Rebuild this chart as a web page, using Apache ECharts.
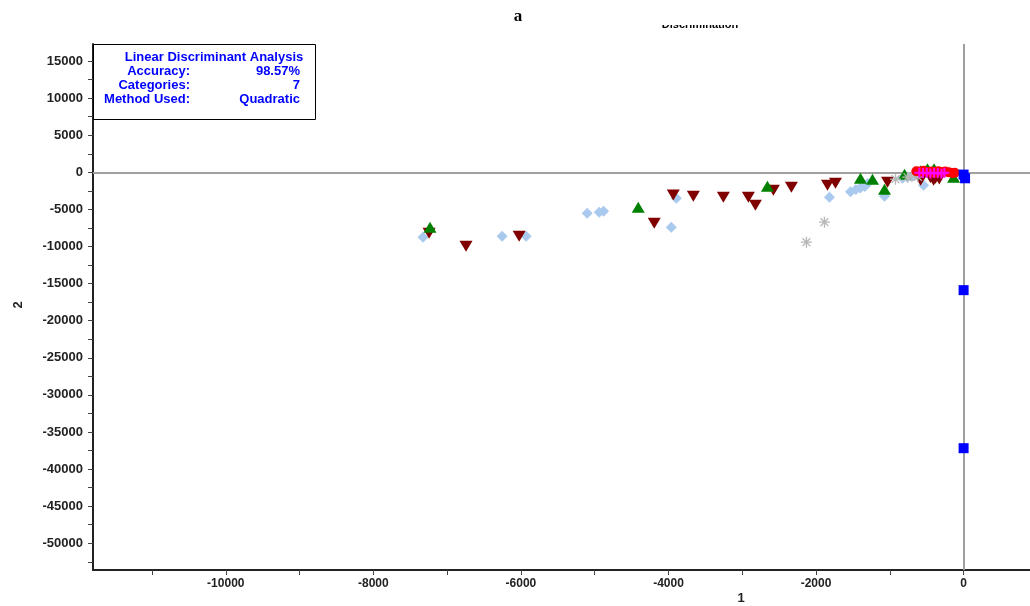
<!DOCTYPE html>
<html>
<head>
<meta charset="utf-8">
<script src="https://cdn.jsdelivr.net/npm/echarts@6/dist/echarts.min.js"></script>
<style>
  html, body { margin: 0; padding: 0; background: #fff; }
  #chart { width: 1030px; height: 606px; }
</style>
</head>
<body>
<div id="chart"></div>
<script>
// Discriminant scores: [function 1, function 2] for each sample, grouped by category
const groupDiamond = [
  [-7327, -8735], [-6255, -8600], [-5929, -8600], [-5102, -5500], [-4939, -5365],
  [-4880, -5230], [-3962, -7387], [-3894, -3478], [-1818, -3343], [-1533, -2600],
  [-1460, -2300], [-1400, -2100], [-1340, -1900], [-1300, -1500], [-1072, -3208],
  [-828, -782], [-543, -1725], [-760, -650], [-690, -520]
];
const groupTriangleDown = [
  [-7245, -8220], [-6744, -9950], [-6024, -8600], [-4193, -6850], [-3935, -3070],
  [-3663, -3208], [-3256, -3343], [-2917, -3343], [-2822, -4421], [-2578, -2400],
  [-2334, -1995], [-1845, -1725], [-1737, -1456], [-1031, -1321], [-583, -1050],
  [-407, -1051], [-380, -780], [-450, -700], [-330, -900]
];
const groupTriangleUp = [
  [-7232, -7400], [-4410, -4690], [-2659, -1860], [-1398, -787], [-1235, -917],
  [-1072, -2265], [-800, -250], [-490, 500], [-400, 500], [-136, -650], [-580, 200]
];
const groupStar = [
  [-2130, -9410], [-1886, -6713], [-923, -917], [-760, -650], [-700, -500], [-620, -600]
];
const groupSquare = [
  [0, -300], [20, -800], [0, -15880], [0, -37180]
];
const groupCircle = [
  [-640, 150], [-590, 100], [-540, 200], [-490, 50], [-440, 120], [-390, 80],
  [-340, 150], [-290, 50], [-250, 100], [-200, 0], [-150, -100], [-120, -50], [-400, -100]
];
const groupPlus = [
  [-600, -50], [-550, -100], [-500, -50], [-450, -150], [-400, -50],
  [-350, -100], [-300, -200], [-260, -50]
];

// Axis ticks and labels
const xLabelValues = [-10000, -8000, -6000, -4000, -2000, 0];
const xTickValues = [-11000, -10000, -9000, -8000, -7000, -6000, -5000, -4000, -3000, -2000, -1000, 0];
const yLabelValues = [-50000, -45000, -40000, -35000, -30000, -25000, -20000, -15000, -10000, -5000, 0, 5000, 10000, 15000];
const yTickValues = [];
for (let v = -52500; v <= 15000; v += 2500) yTickValues.push(v);

// Summary box text
const summaryTitle = 'Linear Discriminant Analysis';
const summaryRows = [
  ['Accuracy:', '98.57%'],
  ['Categories:', '7'],
  ['Method Used:', 'Quadratic']
];

const plusPath = 'path://M4,0H6V4H10V6H6V10H4V6H0V4H4Z';
const starPath = 'path://M4.4,0H5.6V3.6L8.2,1L9,1.8L6.4,4.4H10V5.6H6.4L9,8.2L8.2,9L5.6,6.4V10H4.4V6.4L1.8,9L1,8.2L3.6,5.6H0V4.4H3.6L1,1.8L1.8,1L4.4,3.6Z';

const chart = echarts.init(document.getElementById('chart'), null, { renderer: 'canvas' });

const labelFont = { fontFamily: 'Liberation Sans, Arial, sans-serif', fontWeight: 'bold', color: '#222' };
const boxFont = 'bold 13px Liberation Sans, Arial, sans-serif';

const summaryGraphics = [
  {
    type: 'rect', left: 93, top: 44, z: 100,
    shape: { width: 222, height: 75 },
    style: { fill: '#fff', stroke: '#000', lineWidth: 1 }
  },
  {
    type: 'text', x: 214, y: 57, z: 101,
    style: { text: summaryTitle, fill: '#0000ff', font: boxFont, textAlign: 'center', textVerticalAlign: 'middle' }
  }
];
summaryRows.forEach((row, i) => {
  const y = 71 + i * 14;
  summaryGraphics.push({
    type: 'text', x: 190, y: y, z: 101,
    style: { text: row[0], fill: '#0000ff', font: boxFont, textAlign: 'right', textVerticalAlign: 'middle' }
  });
  summaryGraphics.push({
    type: 'text', x: 300, y: y, z: 101,
    style: { text: row[1], fill: '#0000ff', font: boxFont, textAlign: 'right', textVerticalAlign: 'middle' }
  });
});

const plain = v => String(v);

const option = {
  backgroundColor: '#fff',
  animation: false,
  grid: { left: 93, top: 44, right: 0, bottom: 36, containLabel: false },
  xAxis: {
    type: 'value', min: -11800, max: 900,
    axisLine: { show: true, onZero: false, lineStyle: { color: '#222', width: 2 } },
    axisTick: { show: true, customValues: xTickValues, length: 5, lineStyle: { color: '#444' } },
    axisLabel: { customValues: xLabelValues, formatter: plain, margin: 8, fontSize: 12, ...labelFont },
    splitLine: { show: false }
  },
  yAxis: {
    type: 'value', min: -53600, max: 17300,
    axisLine: { show: true, onZero: false, lineStyle: { color: '#222', width: 2 } },
    axisTick: { show: true, customValues: yTickValues, length: 5, lineStyle: { color: '#444' } },
    axisLabel: { customValues: yLabelValues, formatter: plain, margin: 10, fontSize: 13, ...labelFont },
    splitLine: { show: false }
  },
  graphic: [
    {
      type: 'text', x: 518, y: 17, z: 50,
      style: { text: 'a', fill: '#000', font: 'bold 17px Liberation Serif, Times New Roman, serif', textAlign: 'center', textVerticalAlign: 'middle' }
    },
    {
      type: 'text', x: 700, y: 25, z: 50,
      style: { text: 'Discrimination', fill: '#000', font: 'bold 11px Liberation Sans, Arial, sans-serif', textAlign: 'center', textVerticalAlign: 'middle' }
    },
    { type: 'rect', left: 600, top: 0, z: 51, shape: { width: 200, height: 25 }, style: { fill: '#fff' } },
    {
      type: 'text', x: 741, y: 598, z: 50,
      style: { text: '1', fill: '#222', font: 'bold 13px Liberation Sans, Arial, sans-serif', textAlign: 'center', textVerticalAlign: 'middle' }
    },
    {
      type: 'text', x: 18, y: 305, z: 50, rotation: Math.PI / 2,
      style: { text: '2', fill: '#222', font: 'bold 13px Liberation Sans, Arial, sans-serif', textAlign: 'center', textVerticalAlign: 'middle' }
    },
    ...summaryGraphics
  ],
  series: [
    {
      type: 'scatter', name: 'origin', data: [], silent: true, z: 1,
      markLine: {
        z: 1, silent: true, symbol: 'none', label: { show: false },
        lineStyle: { color: '#a0a0a0', width: 2, type: 'solid' },
        data: [{ xAxis: 0 }, { yAxis: 0 }]
      }
    },
    { type: 'scatter', z: 8, name: 'group 1', data: groupDiamond, symbol: 'diamond', symbolSize: [11, 11], itemStyle: { color: '#a9c9ef', opacity: 1 } },
    { type: 'scatter', z: 8, name: 'group 2', data: groupTriangleDown, symbol: 'triangle', symbolRotate: 180, symbolSize: [13, 11], itemStyle: { color: '#800000', opacity: 1 } },
    { type: 'scatter', z: 8, name: 'group 3', data: groupTriangleUp, symbol: 'triangle', symbolSize: [13, 11], itemStyle: { color: '#008000', opacity: 1 } },
    { type: 'scatter', z: 8, name: 'group 4', data: groupStar, symbol: starPath, symbolSize: 11, itemStyle: { color: '#b8b8b8', opacity: 1 } },
    { type: 'scatter', z: 8, name: 'group 5', data: groupCircle, symbol: 'circle', symbolSize: 10, itemStyle: { color: '#ff0000', opacity: 1 } },
    { type: 'scatter', z: 8, name: 'group 6', data: groupPlus, symbol: plusPath, symbolSize: 10, itemStyle: { color: '#ff00ff', opacity: 1 } },
    { type: 'scatter', z: 8, name: 'group 7', data: groupSquare, symbol: 'rect', symbolSize: 10, itemStyle: { color: '#0000ff', opacity: 1 } }
  ]
};

chart.setOption(option);
</script>
</body>
</html>
